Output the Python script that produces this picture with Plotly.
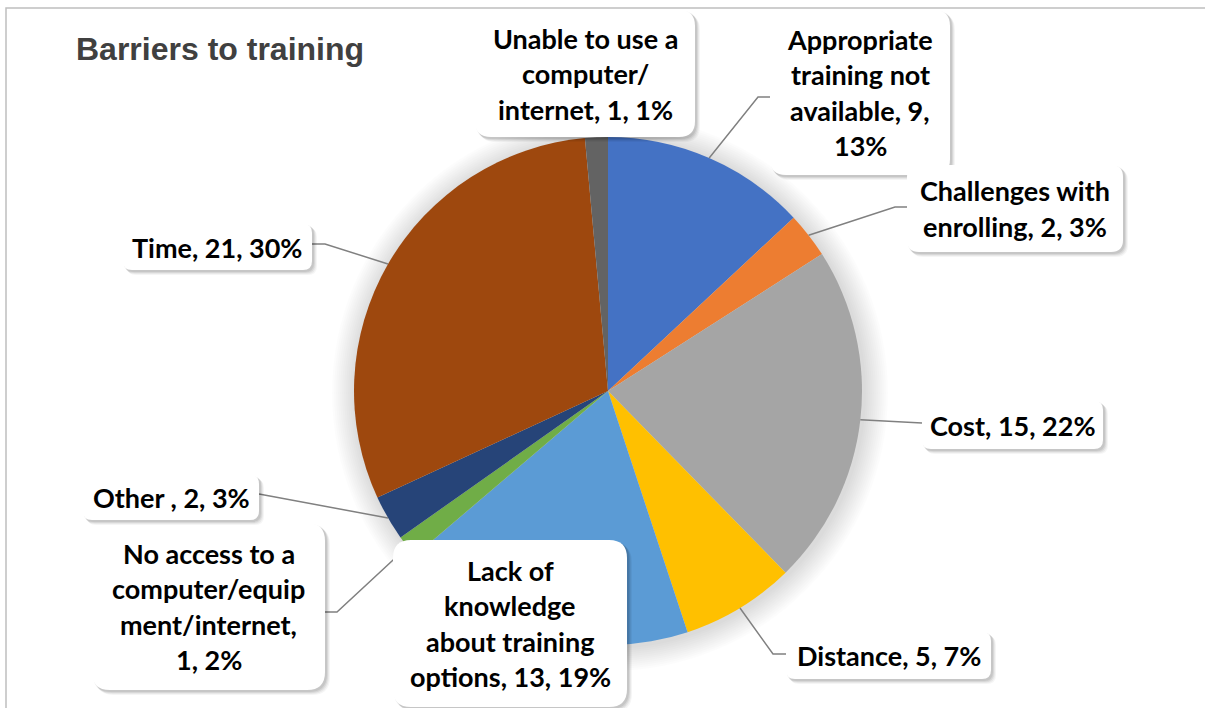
import math
import plotly.graph_objects as go

W, H = 1205, 708

# ---- data ----
categories = [
    "Appropriate training not available",
    "Challenges with enrolling",
    "Cost",
    "Distance",
    "Lack of knowledge about training options",
    "No access to a computer/equipment/internet",
    "Other ",
    "Time",
    "Unable to use a computer/ internet",
]
counts = [9, 2, 15, 5, 13, 1, 2, 21, 1]
pct_labels = ["13%", "3%", "22%", "7%", "19%", "2%", "3%", "30%", "1%"]
colors = ["#4472C4", "#ED7D31", "#A5A5A5", "#FFC000", "#5B9BD5",
          "#70AD47", "#264478", "#9E480E", "#636363"]

# ---- layout (pixels) ----
PIE_CX, PIE_CY, PIE_R = 608, 391, 254

# label box: centre x, centre y, width, height, corner radius, line chunk lengths
boxes = [
    (860, 92.5, 180, 165, 16, [12, 13, 14]),
    (1015, 208.5, 216, 87, 12, [16]),
    (1012.5, 425, 181, 48, 9, []),
    (888.5, 655.5, 205, 47, 9, []),
    (510, 623.5, 234, 167, 18, [8, 10, 15]),
    (208.5, 606.5, 233, 167, 18, [15, 14, 15]),
    (171, 497.5, 176, 45, 9, []),
    (217.5, 247, 189, 46, 9, []),
    (585, 73.5, 220, 127, 16, [16, 10]),
]
# leader line points from the box outward (the pie edge point is appended)
leaders = [
    [(770, 97), (758, 97)],
    [(907, 207), (895, 207)],
    [(922, 423)],
    [(786, 654), (773, 654)],
    None,
    [(325, 612), (337, 612)],
    [(259, 494)],
    [(312, 244), (325, 244)],
    None,
]
LINE_PITCH = 35.5


def px(x):
    return x / W


def py(y):
    return 1 - y / H


def wrap(text, chunks):
    lines, pos = [], 0
    for n in chunks:
        lines.append(text[pos:pos + n].strip())
        pos += n
    lines.append(text[pos:].strip())
    return lines


def rounded_rect(x0, y0, x1, y1, r):
    return (f"M {px(x0 + r)} {py(y0)} L {px(x1 - r)} {py(y0)} "
            f"Q {px(x1)} {py(y0)} {px(x1)} {py(y0 + r)} "
            f"L {px(x1)} {py(y1 - r)} Q {px(x1)} {py(y1)} {px(x1 - r)} {py(y1)} "
            f"L {px(x0 + r)} {py(y1)} Q {px(x0)} {py(y1)} {px(x0)} {py(y1 - r)} "
            f"L {px(x0)} {py(y0 + r)} Q {px(x0)} {py(y0)} {px(x0 + r)} {py(y0)} Z")


fig = go.Figure()
fig.add_trace(go.Pie(
    labels=categories,
    values=counts,
    sort=False,
    direction="clockwise",
    rotation=0,
    marker=dict(colors=colors, line=dict(width=0)),
    textinfo="none",
    hoverinfo="label+value+percent",
    domain=dict(x=[px(PIE_CX - PIE_R), px(PIE_CX + PIE_R)],
                y=[py(PIE_CY + PIE_R), py(PIE_CY - PIE_R)]),
    showlegend=False,
))

shapes = []
annotations = []

# chart frame (top and left edges are within the view)
frame = f"M {px(6)} {py(720)} L {px(6)} {py(8)} L {px(1215)} {py(8)}"
shapes.append(dict(type="path", xref="paper", yref="paper", path=frame,
                   line=dict(color="#BFBFBF", width=1.5), layer="below"))

# soft glow behind the pie
for k in range(12):
    rr = PIE_R + 2 + 2 * k
    shapes.append(dict(type="circle", xref="paper", yref="paper",
                       x0=px(PIE_CX - rr + 2), x1=px(PIE_CX + rr + 2),
                       y0=py(PIE_CY + rr + 2), y1=py(PIE_CY - rr + 2),
                       line=dict(width=0), fillcolor="rgba(0,0,0,0.012)",
                       layer="below"))

# leader lines from each slice mid-angle to its label
total = sum(counts)
cum = 0
for i, v in enumerate(counts):
    mid = (cum + v / 2) / total * 2 * math.pi
    cum += v
    if leaders[i] is None:
        continue
    ex = PIE_CX + PIE_R * math.sin(mid)
    ey = PIE_CY - PIE_R * math.cos(mid)
    pts = leaders[i] + [(ex, ey)]
    path = "M " + " L ".join(f"{px(x)} {py(y)}" for x, y in pts)
    shapes.append(dict(type="path", xref="paper", yref="paper", path=path,
                       line=dict(color="#808080", width=1.5), layer="above"))

# label boxes with drop shadows and text
for i, (cx, cy, w, h, r, chunks) in enumerate(boxes):
    x0, x1 = cx - w / 2, cx + w / 2
    y0, y1 = cy - h / 2, cy + h / 2
    for off, a in [(5, 0.04), (4, 0.05), (3, 0.07), (2, 0.08)]:
        shapes.append(dict(type="path", xref="paper", yref="paper",
                           path=rounded_rect(x0 + off - 1, y0 + off - 1,
                                             x1 + off, y1 + off, r),
                           fillcolor=f"rgba(0,0,0,{a})", line=dict(width=0),
                           layer="above"))
    shapes.append(dict(type="path", xref="paper", yref="paper",
                       path=rounded_rect(x0, y0, x1, y1, r),
                       fillcolor="white", line=dict(width=0), layer="above"))
    text = f"{categories[i]}, {counts[i]}, {pct_labels[i]}"
    lines = wrap(text, chunks)
    n = len(lines)
    for j, ln in enumerate(lines):
        ly = cy + (j - (n - 1) / 2) * LINE_PITCH
        annotations.append(dict(
            x=px(cx), y=py(ly), xref="paper", yref="paper",
            text=f"<b>{ln}</b>", showarrow=False,
            xanchor="center", yanchor="middle",
            font=dict(family="Lato", size=27, color="#000000"),
        ))

# title
annotations.append(dict(
    x=px(74), y=py(49), xref="paper", yref="paper",
    text="<b>Barriers to training</b>", showarrow=False,
    xanchor="left", yanchor="middle",
    font=dict(family="Liberation Sans", size=32, color="#404040"),
))

fig.update_layout(
    width=W, height=H,
    margin=dict(l=0, r=0, t=0, b=0),
    paper_bgcolor="white",
    plot_bgcolor="white",
    shapes=shapes,
    annotations=annotations,
)

fig.write_html("out.html")
